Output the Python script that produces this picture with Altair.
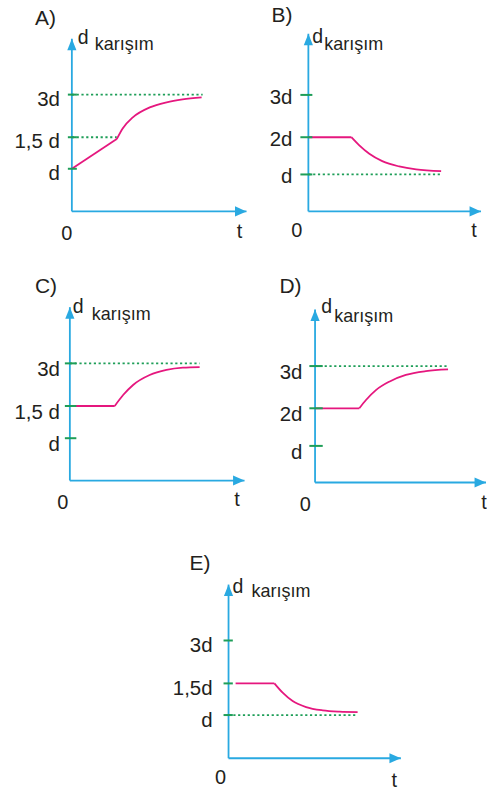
import altair as alt
import pandas as pd

# ---- values -------------------------------------------------------------
T_END = 10          # t value at the tip of the time arrow
D_TOP = 4           # d value at the tip of the density arrow

# A) linear rise, then curve up toward 3d
A_TICKS = [1, 1.5, 3]
A_TICK_LABELS = ["d", "1,5 d", "3d"]
A_GUIDES = [1.5, 3]
A_GUIDE_END = [2.57, 7.49]
A_T = [0, 2.57, 2.57, 2.91, 3.49, 4.46, 5.43, 6.34, 7.43]
A_D = [1.0, 1.47, 1.47, 1.81, 2.2, 2.55, 2.73, 2.83, 2.9]
A_SEG = [0, 0, 1, 1, 1, 1, 1, 1, 1]

# B) constant 2d, then decay toward d
B_TICKS = [1, 2, 3]
B_TICK_LABELS = ["d", "2d", "3d"]
B_GUIDES = [1]
B_GUIDE_END = [7.69]
B_T = [0, 2.49, 2.49, 2.95, 3.53, 4.28, 5.26, 6.24, 7.69]
B_D = [2, 2, 2, 1.78, 1.555, 1.357, 1.215, 1.134, 1.088]
B_SEG = [0, 0, 1, 1, 1, 1, 1, 1, 1]

# C) constant 1,5d, then rise toward 3d
C_TICKS = [1, 1.5, 3]
C_TICK_LABELS = ["d", "1,5 d", "3d"]
C_GUIDES = [3]
C_GUIDE_END = [7.43]
C_T = [0, 2.57, 2.57, 3.05, 3.62, 4.57, 5.53, 6.47, 7.43]
C_D = [1.5, 1.5, 1.5, 1.886, 2.24, 2.59, 2.77, 2.85, 2.87]
C_SEG = [0, 0, 1, 1, 1, 1, 1, 1, 1]

# D) constant 2d, then rise toward 3d
D_TICKS = [1, 2, 3]
D_TICK_LABELS = ["d", "2d", "3d"]
D_GUIDES = [3]
D_GUIDE_END = [7.78]
D_T = [0, 2.59, 2.59, 2.98, 3.56, 4.34, 5.31, 6.48, 7.78]
D_D = [2, 2, 2, 2.196, 2.43, 2.63, 2.79, 2.88, 2.92]
D_SEG = [0, 0, 1, 1, 1, 1, 1, 1, 1]

# E) constant 1,5d, then decay toward d
E_TICKS = [1, 1.5, 3]
E_TICK_LABELS = ["d", "1,5d", "3d"]
E_GUIDES = [1]
E_GUIDE_END = [7.47]
E_T = [0.41, 2.66, 2.66, 3.14, 3.72, 4.5, 5.46, 6.43, 7.49]
E_D = [1.5, 1.5, 1.5, 1.353, 1.221, 1.126, 1.074, 1.054, 1.047]
E_SEG = [0, 0, 1, 1, 1, 1, 1, 1, 1]

# ---- styling ------------------------------------------------------------
BLUE = "#29a9e1"
GREEN = "#1e9e58"
MAGENTA = "#e5177e"
TEXT = "#231f20"
FONT = "Liberation Sans"

# arrow heads: tip sits on the data point, body hangs behind it
UP_ARROW = "M0,0L0.8,2L-0.8,2Z"
RIGHT_ARROW = "M0,0L-2,-0.88L-2,0.88Z"
ARROW_SIZE = 132

# per-panel geometry: cell size, pixel ranges of the scales, text offsets
LAYOUT = {
    "A": dict(w=250, h=265, xr=[72, 247], yr=[211, 168.3, 136.7, 94, 38],
              title=(-37, -14), d=(6, 5), sub=(23, 11), zero=(-5, 29), t=(-7, 27),
              lab=(-12, 11), tick=(-4, 5)),
    "B": dict(w=237, h=265, xr=[59, 232], yr=[211, 174, 136.7, 94.3, 33],
              title=(-37, -12), d=(4, 9), sub=(16, 16), zero=(-11.5, 26), t=(-7, 26),
              lab=(-16, 9), tick=(-8, 4)),
    "C": dict(w=250, h=265, xr=[70, 245], yr=[215.7, 173.3, 141, 98.3, 42],
              title=(-35, -14), d=(3, 6), sub=(22, 13), zero=(-7, 29), t=(-7.5, 26),
              lab=(-10, 13), tick=(-5, 6.5)),
    "D": dict(w=237, h=265, xr=[65.7, 237], yr=[217.7, 181, 143.3, 101, 44.3],
              title=(-35.7, -17), d=(6.3, 4), sub=(19.3, 12.4), zero=(-9.7, 29), t=(-2, 27),
              lab=(-12.7, 13), tick=(-5.7, 7.7)),
    "E": dict(w=487, h=262, xr=[229, 401.7], yr=[229, 185.7, 154, 111, 55],
              title=(-39, -15), d=(4, 8), sub=(23, 12), zero=(-8, 26), t=(-6.7, 29),
              lab=(-16, 12), tick=(-5, 4.3)),
}

PANELS = {
    "A": (A_TICKS, A_TICK_LABELS, A_GUIDES, A_GUIDE_END, A_T, A_D, A_SEG),
    "B": (B_TICKS, B_TICK_LABELS, B_GUIDES, B_GUIDE_END, B_T, B_D, B_SEG),
    "C": (C_TICKS, C_TICK_LABELS, C_GUIDES, C_GUIDE_END, C_T, C_D, C_SEG),
    "D": (D_TICKS, D_TICK_LABELS, D_GUIDES, D_GUIDE_END, D_T, D_D, D_SEG),
    "E": (E_TICKS, E_TICK_LABELS, E_GUIDES, E_GUIDE_END, E_T, E_D, E_SEG),
}


def panel(key):
    ticks, tick_labels, guides, guide_end, ts, ds, segs = PANELS[key]
    g = LAYOUT[key]
    xs = alt.Scale(domain=[0, T_END], range=g["xr"], nice=False, zero=False)
    ys = alt.Scale(domain=[0, ticks[0], ticks[1], ticks[2], D_TOP],
                   range=g["yr"], nice=False, zero=False)

    def X(f):
        return alt.X(f, type="quantitative", scale=xs, axis=None)

    def Y(f):
        return alt.Y(f, type="quantitative", scale=ys, axis=None)

    axes_df = pd.DataFrame({"t": [0, 0], "d": [0, 0], "t2": [0, T_END], "d2": [D_TOP, 0]})
    axes = alt.Chart(axes_df).mark_rule(color=BLUE, strokeWidth=1.8).encode(
        x=X("t"), y=Y("d"), x2="t2", y2="d2")

    up = alt.Chart(pd.DataFrame({"t": [0], "d": [D_TOP]})).mark_point(
        shape=UP_ARROW, size=ARROW_SIZE, filled=True, color=BLUE, opacity=1, strokeWidth=0
    ).encode(x=X("t"), y=Y("d"))
    right = alt.Chart(pd.DataFrame({"t": [T_END], "d": [0]})).mark_point(
        shape=RIGHT_ARROW, size=ARROW_SIZE, filled=True, color=BLUE, opacity=1, strokeWidth=0
    ).encode(x=X("t"), y=Y("d"))

    guide_df = pd.DataFrame({"t": [0] * len(guides), "t2": guide_end, "d": guides})
    guide = alt.Chart(guide_df).mark_rule(
        color=GREEN, strokeWidth=1.8, strokeDash=[2.2, 2.6]
    ).encode(x=X("t"), x2="t2", y=Y("d"))

    curve_df = pd.DataFrame({"t": ts, "d": ds, "seg": segs, "i": range(len(ts))})
    curve = alt.Chart(curve_df).mark_line(
        color=MAGENTA, strokeWidth=1.8, interpolate="monotone"
    ).encode(x=X("t"), y=Y("d"), detail="seg:N", order="i:Q")

    tick_df = pd.DataFrame({"t": [0] * len(ticks), "d": ticks, "label": tick_labels})
    tick_marks = alt.Chart(tick_df).mark_rule(
        color=GREEN, strokeWidth=2, xOffset=g["tick"][0], x2Offset=g["tick"][1]
    ).encode(x=X("t"), x2="t", y=Y("d"))
    tick_text = alt.Chart(tick_df).mark_text(
        align="right", baseline="alphabetic", dx=g["lab"][0], dy=g["lab"][1],
        font=FONT, fontSize=20.5, color=TEXT
    ).encode(x=X("t"), y=Y("d"), text="label:N")

    def label(text, t, d, off, size, align):
        df = pd.DataFrame({"t": [t], "d": [d], "s": [text]})
        return alt.Chart(df).mark_text(
            align=align, baseline="alphabetic", dx=off[0], dy=off[1],
            font=FONT, fontSize=size, color=TEXT
        ).encode(x=X("t"), y=Y("d"), text="s:N")

    texts = [
        label(key + ")", 0, D_TOP, g["title"], 21, "left"),
        label("d", 0, D_TOP, g["d"], 19.5, "left"),
        label("karışım", 0, D_TOP, g["sub"], 18, "left"),
        label("0", 0, 0, g["zero"], 20, "center"),
        label("t", T_END, 0, g["t"], 20, "center"),
    ]

    return alt.layer(axes, up, right, guide, curve, tick_marks, tick_text, *texts).properties(
        width=g["w"], height=g["h"])


row1 = alt.hconcat(panel("A"), panel("B"), spacing=0)
row2 = alt.hconcat(panel("C"), panel("D"), spacing=0)
chart = alt.vconcat(row1, row2, panel("E"), spacing=0).properties(
    padding=0, background="white"
).configure_view(stroke=None).configure_concat(spacing=0)

chart.save("out.html", embed_options={"renderer": "svg", "actions": False})
